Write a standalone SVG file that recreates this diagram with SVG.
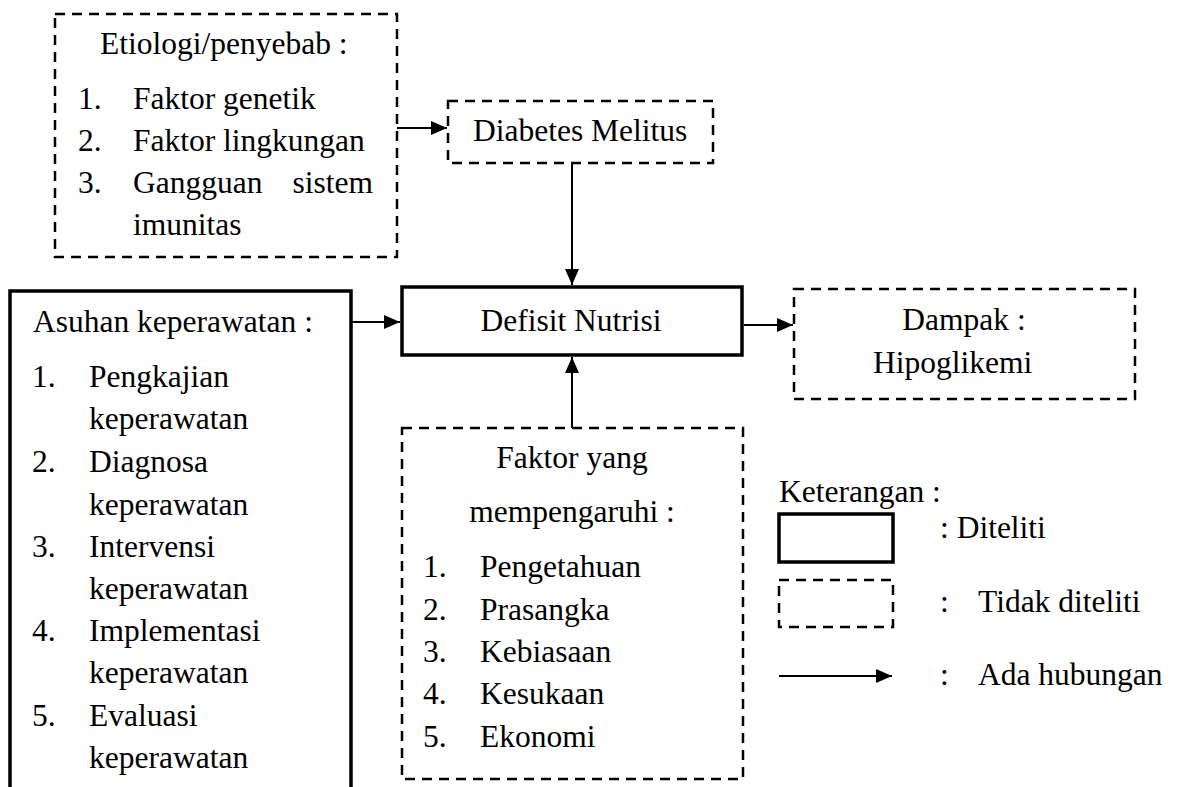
<svg xmlns="http://www.w3.org/2000/svg" width="1182" height="787" viewBox="0 0 1182 787">
<style>
.t text{font-family:'Liberation Serif', serif;font-size:31.5px;fill:#000}
.dash{fill:none;stroke:#000;stroke-width:2.5;stroke-dasharray:10 7}
.solid{fill:none;stroke:#000;stroke-width:3.5}
.conn{fill:none;stroke:#000;stroke-width:2}
.mid{text-anchor:middle}
</style>
<defs>
<marker id="ah" markerUnits="userSpaceOnUse" markerWidth="16" markerHeight="14" refX="16" refY="7" orient="auto">
<path d="M0,0 L16,7 L0,14 Z" fill="#000"/>
</marker>
</defs>
<rect width="1182" height="787" fill="#fff"/>
<g class="t">
<g id="etiologi">
<rect class="dash" x="55" y="14" width="342" height="243"/>
<text x="100" y="54">Etiologi/penyebab :</text>
<text x="78" y="109">1.</text><text x="133" y="109">Faktor genetik</text>
<text x="78" y="151">2.</text><text x="133" y="151">Faktor lingkungan</text>
<text x="78" y="193">3.</text><text x="133" y="193">Gangguan</text><text x="373" y="193" text-anchor="end">sistem</text>
<text x="133" y="235">imunitas</text>
</g>
<g id="diabetes">
<rect class="dash" x="448" y="101" width="265" height="62"/>
<text x="473" y="141">Diabetes Melitus</text>
</g>
<g id="defisit">
<rect class="solid" x="402" y="287" width="340" height="68"/>
<text x="571" y="331" class="mid">Defisit Nutrisi</text>
</g>
<g id="asuhan">
<path class="solid" d="M10,800 V291 H351 V800"/>
<text x="33" y="332">Asuhan keperawatan :</text>
<text x="32" y="387">1.</text><text x="89" y="387">Pengkajian</text>
<text x="89" y="429">keperawatan</text>
<text x="32" y="472">2.</text><text x="89" y="472">Diagnosa</text>
<text x="89" y="515">keperawatan</text>
<text x="32" y="557">3.</text><text x="89" y="557">Intervensi</text>
<text x="89" y="599">keperawatan</text>
<text x="32" y="641">4.</text><text x="89" y="641">Implementasi</text>
<text x="89" y="683">keperawatan</text>
<text x="32" y="726">5.</text><text x="89" y="726">Evaluasi</text>
<text x="89" y="768">keperawatan</text>
</g>
<g id="dampak">
<rect class="dash" x="794" y="289" width="341" height="110"/>
<text x="964" y="330" class="mid">Dampak :</text>
<text x="873" y="373">Hipoglikemi</text>
</g>
<g id="faktor">
<rect class="dash" x="402" y="428" width="341" height="351"/>
<text x="572" y="468" class="mid">Faktor yang</text>
<text x="572" y="522" class="mid">mempengaruhi :</text>
<text x="423" y="577">1.</text><text x="480" y="577">Pengetahuan</text>
<text x="423" y="620">2.</text><text x="480" y="620">Prasangka</text>
<text x="423" y="662">3.</text><text x="480" y="662">Kebiasaan</text>
<text x="423" y="704">4.</text><text x="480" y="704">Kesukaan</text>
<text x="423" y="747">5.</text><text x="480" y="747">Ekonomi</text>
</g>
<g id="legend">
<text x="779" y="502">Keterangan :</text>
<rect class="solid" x="779" y="514" width="114" height="48"/>
<text x="940" y="538">: Diteliti</text>
<rect class="dash" x="779" y="580" width="114" height="47"/>
<text x="940" y="612">:</text><text x="978" y="612">Tidak diteliti</text>
<line class="conn" x1="779" y1="676" x2="892" y2="676" marker-end="url(#ah)"/>
<text x="940" y="685">:</text><text x="978" y="685">Ada hubungan</text>
</g>
</g>
<g id="connectors">
<line class="conn" x1="397" y1="128" x2="447" y2="128" marker-end="url(#ah)"/>
<line class="conn" x1="572" y1="163" x2="572" y2="285" marker-end="url(#ah)"/>
<line class="conn" x1="351" y1="322" x2="400" y2="322" marker-end="url(#ah)"/>
<line class="conn" x1="744" y1="325" x2="793" y2="325" marker-end="url(#ah)"/>
<line class="conn" x1="572" y1="428" x2="572" y2="357" marker-end="url(#ah)"/>
</g>
</svg>
